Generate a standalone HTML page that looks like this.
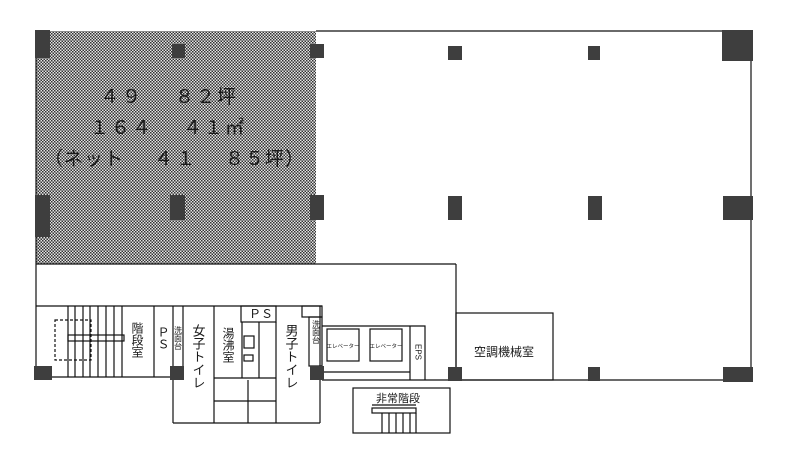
<!DOCTYPE html>
<html><head><meta charset="utf-8"><style>
html,body{margin:0;padding:0;background:#fff;}
svg{display:block;}
text{font-family:"Liberation Sans","Noto Sans CJK JP",sans-serif;fill:#1a1a1a;}
</style></head><body>
<svg width="787" height="452" viewBox="0 0 787 452" xmlns="http://www.w3.org/2000/svg">
<defs>
<pattern id="h" width="3" height="3" patternUnits="userSpaceOnUse">
<rect width="3" height="3" fill="#e4e4e4"/>
<rect x="0" y="0" width="1.5" height="1.5" fill="#333"/>
<rect x="1.5" y="1.5" width="1.5" height="1.5" fill="#333"/>
</pattern>
</defs>
<rect x="36" y="31" width="280" height="233" fill="url(#h)"/>
<g fill="none" stroke="#111" stroke-width="1.2">
<polyline points="316,31 751,31 751,380"/>
<line x1="36" y1="31" x2="36" y2="380"/>
<line x1="36" y1="264" x2="456" y2="264"/>
<line x1="456" y1="264" x2="456" y2="380"/>
<line x1="456" y1="380" x2="751" y2="380"/>
<rect x="456" y="313" width="97" height="67"/>
<line x1="36" y1="306" x2="322" y2="306"/>
<line x1="52" y1="377" x2="170" y2="377"/>
<rect x="55" y="320" width="36" height="40" stroke-dasharray="3,2"/>
<rect x="68" y="335" width="56" height="6"/>
<line x1="68" y1="306" x2="68" y2="377"/><line x1="75" y1="306" x2="75" y2="377"/>
<line x1="83" y1="306" x2="83" y2="377"/><line x1="90" y1="306" x2="90" y2="377"/>
<line x1="98" y1="306" x2="98" y2="377"/><line x1="106" y1="306" x2="106" y2="377"/>
<line x1="114" y1="306" x2="114" y2="377"/><line x1="122" y1="306" x2="122" y2="377"/>
<line x1="154" y1="306" x2="154" y2="377"/>
<line x1="173" y1="306" x2="173" y2="423"/>
<line x1="183" y1="306" x2="183" y2="366"/>
<line x1="214" y1="306" x2="214" y2="423"/>
<line x1="173" y1="423" x2="320" y2="423"/>
<rect x="241" y="306" width="35" height="16"/>
<line x1="242" y1="322" x2="242" y2="378"/>
<line x1="259" y1="322" x2="259" y2="378"/>
<line x1="214" y1="378" x2="276" y2="378"/>
<line x1="276" y1="322" x2="276" y2="423"/>
<line x1="248" y1="380" x2="248" y2="423"/>
<line x1="214" y1="401" x2="276" y2="401"/>
<line x1="320" y1="306" x2="320" y2="423"/>
<rect x="302" y="306" width="20" height="11"/>
<rect x="244" y="336" width="10" height="12"/>
<rect x="244" y="355" width="9" height="6"/>
<rect x="309" y="317" width="13" height="49"/>
<polyline points="322,326 425,326 425,380"/>
<line x1="322" y1="372" x2="410" y2="372"/>
<line x1="410" y1="326" x2="410" y2="380"/>
<line x1="322" y1="380" x2="448" y2="380"/>
<rect x="327" y="329" width="32" height="32"/>
<rect x="370" y="329" width="32" height="32"/>
<rect x="353" y="388" width="97" height="45"/>
<line x1="372" y1="405" x2="416" y2="405"/>
<rect x="372" y="408" width="44" height="5"/>
<line x1="382" y1="413" x2="382" y2="433"/><line x1="389" y1="413" x2="389" y2="433"/>
<line x1="396" y1="413" x2="396" y2="433"/><line x1="403" y1="413" x2="403" y2="433"/>
<line x1="410" y1="413" x2="410" y2="433"/><line x1="416" y1="413" x2="416" y2="433"/>
</g>
<g fill="#3e3e3e">
<rect x="35" y="30" width="15" height="28"/><rect x="172" y="44" width="13" height="14"/>
<rect x="310" y="44" width="14" height="14"/><rect x="448" y="46" width="14" height="14"/>
<rect x="588" y="46" width="12" height="14"/><rect x="722" y="30" width="31" height="31"/>
<rect x="35" y="195" width="15" height="42"/><rect x="170" y="195" width="15" height="25"/>
<rect x="310" y="195" width="14" height="25"/><rect x="448" y="196" width="14" height="24"/>
<rect x="588" y="196" width="14" height="24"/><rect x="723" y="196" width="30" height="24"/>
<rect x="34" y="366" width="18" height="14"/><rect x="170" y="366" width="14" height="14"/>
<rect x="310" y="366" width="14" height="14"/><rect x="448" y="367" width="14" height="14"/>
<rect x="588" y="367" width="12" height="14"/><rect x="723" y="367" width="30" height="15"/>
</g>
<g font-size="19">
<text x="100" y="103" letter-spacing="3">４９</text>
<text x="175" y="103" letter-spacing="2">８２坪</text>
<text x="90" y="134" letter-spacing="2">１６４</text>
<text x="183" y="134" letter-spacing="2">４１㎡</text>
<text x="44" y="165" letter-spacing="1">（ネット</text>
<text x="154" y="165" letter-spacing="3">４１</text>
<text x="225" y="165" letter-spacing="1">８５坪）</text>
</g>
<g font-size="12">
<text x="504" y="356" text-anchor="middle">空調機械室</text>
<text x="249" y="318">ＰＳ</text>
<text x="398" y="402" font-size="11" text-anchor="middle">非常階段</text>
<text x="343" y="348" font-size="5.5" text-anchor="middle">エレベーター</text>
<text x="386" y="348" font-size="5.5" text-anchor="middle">エレベーター</text>
</g>
<g font-size="12" writing-mode="tb">
<text x="137" y="322">階段室</text>
<text x="163" y="326">ＰＳ</text>
<text x="198" y="324" font-size="13">女子トイレ</text>
<text x="228" y="327">湯沸室</text>
<text x="291" y="324" font-size="13">男子トイレ</text>
<text x="178" y="326" font-size="8">洗面台</text>
<text x="316" y="320" font-size="8">洗面台</text>
<text x="418" y="344" font-size="8">EPS</text>
</g>
</svg>
</body></html>
